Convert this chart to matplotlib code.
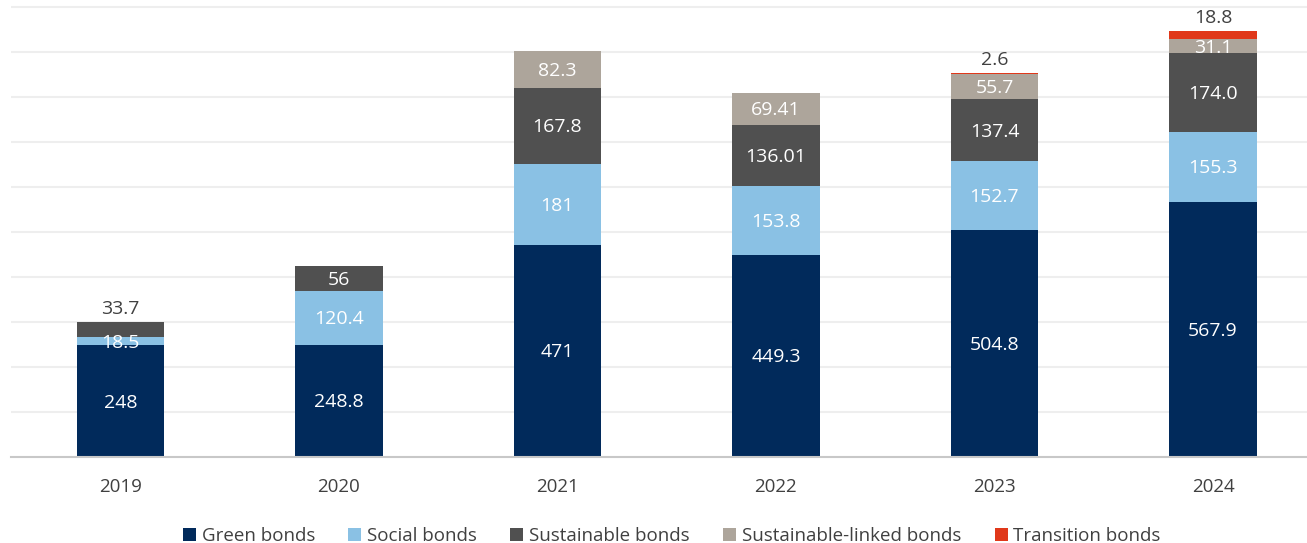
import matplotlib
matplotlib.use("Agg")
import matplotlib.pyplot as plt
import numpy as np

plt.rcParams['font.family'] = ['Open Sans', 'DejaVu Sans']

years = ['2019', '2020', '2021', '2022', '2023', '2024']
green = [248, 248.8, 471, 449.3, 504.8, 567.9]
social = [18.5, 120.4, 181, 153.8, 152.7, 155.3]
sustainable = [33.7, 56, 167.8, 136.01, 137.4, 174.0]
linked = [0, 0, 82.3, 69.41, 55.7, 31.1]
transition = [0, 0, 0, 0, 2.6, 18.8]

green_lbl = ['248', '248.8', '471', '449.3', '504.8', '567.9']
social_lbl = ['18.5', '120.4', '181', '153.8', '152.7', '155.3']
sust_lbl = ['33.7', '56', '167.8', '136.01', '137.4', '174.0']
linked_lbl = ['', '', '82.3', '69.41', '55.7', '31.1']
trans_lbl = ['', '', '', '', '2.6', '18.8']

series = [
    ('Green bonds', green, green_lbl, '#012A5B'),
    ('Social bonds', social, social_lbl, '#8AC1E4'),
    ('Sustainable bonds', sustainable, sust_lbl, '#505050'),
    ('Sustainable-linked bonds', linked, linked_lbl, '#ADA59B'),
    ('Transition bonds', transition, trans_lbl, '#E0381A'),
]

fig = plt.figure(figsize=(13.07, 5.43), dpi=100)
ax = fig.add_axes([11/1307, 86/543, 1 - 11/1307, 452/543])

x = np.arange(len(years))
bottom = np.zeros(len(years))
width = 0.4
txt = '#404040'
for name, vals, lbls, col in series:
    vals = np.array(vals, dtype=float)
    ax.bar(x, vals, width, bottom=bottom, color=col, label=name, zorder=3)
    for i, v in enumerate(vals):
        if not lbls[i]:
            continue
        # small top segments get their label above the bar
        top_lbl = (v < 30 and name != 'Social bonds') or (name == 'Sustainable bonds' and i == 0)
        if top_lbl:
            ax.annotate(lbls[i], (x[i], bottom[i] + v), xytext=(0, 3),
                        textcoords='offset points', ha='center', va='bottom',
                        fontsize=14, color=txt)
        else:
            ax.text(x[i], bottom[i] + v / 2 - 3, lbls[i], ha='center', va='center',
                    fontsize=14, color='white', zorder=4)
    bottom += vals

ax.set_xlim(-0.5, 5.43)
ax.set_ylim(0, 1005)
ax.set_yticks(np.arange(100, 1001, 100))
ax.yaxis.grid(True, color='#EEEEEE', linewidth=1.5, zorder=0)
ax.set_yticklabels([])
ax.tick_params(axis='y', length=0)
ax.set_xticks(x)
ax.set_xticklabels(years, fontsize=13.5, color=txt)
ax.tick_params(axis='x', length=0, pad=15)
for s in ['top', 'right', 'left']:
    ax.spines[s].set_visible(False)
ax.spines['bottom'].set_color('#C8C8C8')
ax.spines['bottom'].set_linewidth(1.5)
ax.spines['bottom'].set_zorder(5)

fig.legend(loc='lower center', bbox_to_anchor=(0.514, -0.035), ncol=5, frameon=False,
           fontsize=13.5, handlelength=0.7, handleheight=0.7, handletextpad=0.3,
           columnspacing=1.78, labelcolor=txt)

fig.savefig('out.png', dpi=100)
